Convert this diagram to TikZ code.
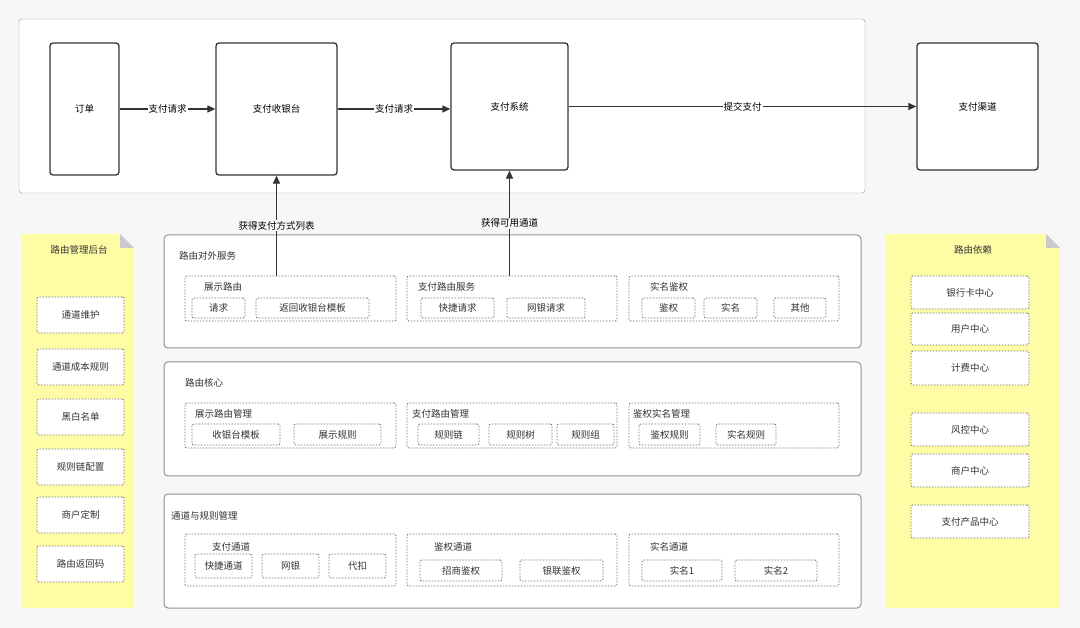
\documentclass[tikz,border=0pt]{standalone}
\usepackage{fontspec}
\setmainfont{Noto Sans CJK SC}
\usepackage{tikz}
\usetikzlibrary{fit,calc,positioning,arrows.meta}
\definecolor{bggray}{HTML}{F7F7F7}
\definecolor{inkgray}{HTML}{333333}
\definecolor{notey}{HTML}{FFFCA6}
\definecolor{foldgray}{HTML}{C9C9CF}
\tikzset{
  mainbox/.style = {draw=inkgray, line width=1.3pt, rounded corners=3pt, fill=white, inner sep=0pt},
  panel/.style = {draw=gray!85, line width=1pt, rounded corners=4pt, fill=white},
  grp/.style = {draw=gray!85!black, line width=0.8pt, dash pattern=on 1.5pt off 1.5pt,
    rounded corners=2pt, inner sep=0pt},
  itm/.style = {grp, fill=white, label={[text=inkgray]center:#1}},
  ttl/.style = {anchor=west, inner sep=0pt, text=inkgray},
  flow/.style = {draw=inkgray, line width=1.2pt, -{Triangle[length=8pt,width=7pt]}},
}

\begin{document}
\begin{tikzpicture}[x=1pt, y=-1pt,
  every node/.style = {font=\fontsize{9.5}{11}\selectfont}]
  \fill[bggray] (0,0) rectangle (1080,628);
  \useasboundingbox (0,0) rectangle (1080,628);

  % top line
  \draw[draw=gray!80, rounded corners=3pt, fill=white] (19,19) rectangle (865,193);
  \node[mainbox, fit={(50,43) (119,175)}, label=center:订单] (order) {};
  \node[mainbox, fit={(216,43) (337,175)}, label=center:支付收银台] (cashier) {};
  \node[mainbox, fit={(451,43) (568,170)}, label=center:支付系统] (paysys) {};
  \node[mainbox, fit={(917,43) (1038,170)}, label=center:支付渠道] (channel) {};

  \draw[flow] (order.east |- 0,109) -- node[fill=white, inner sep=1pt] {支付请求} (cashier.west |- 0,109);
  \draw[flow] (cashier.east |- 0,109) -- node[fill=white, inner sep=1pt] {支付请求} (paysys.west |- 0,109);
  \draw[flow] (paysys.east) -- node[fill=white, inner sep=1pt] {提交支付} (channel.west);

  % left note
  \fill[notey] (22,234) -- (120,234) -- (134,248) -- (134,608) -- (22,608) -- cycle;
  \fill[foldgray] (120,234) -- (134,248) -- (120,248) -- cycle;
  \node[text=inkgray] (admin) at (79,250) {路由管理后台};
  \node[itm=通道维护, fit={(37,297) (124,333)}] (a1) {};
  \node[itm=通道成本规则, fit={(37,349) (124,385)}] (a2) {};
  \node[itm=黑白名单, fit={(37,399) (124,435)}] (a3) {};
  \node[itm=规则链配置, fit={(37,449) (124,485)}] (a4) {};
  \node[itm=商户定制, fit={(37,497) (124,533)}] (a5) {};
  \node[itm=路由返回码, fit={(37,546) (124,582)}] (a6) {};

  % right note
  \fill[notey] (886,234) -- (1046,234) -- (1060,248) -- (1060,608) -- (886,608) -- cycle;
  \fill[foldgray] (1046,234) -- (1060,248) -- (1046,248) -- cycle;
  \node[text=inkgray] (deps) at (973,250) {路由依赖};
  \node[itm=银行卡中心, fit={(911,276) (1029,309)}] (d1) {};
  \node[itm=用户中心, fit={(911,313) (1029,345)}] (d2) {};
  \node[itm=计费中心, fit={(911,351) (1029,385)}] (d3) {};
  \node[itm=风控中心, fit={(911,413) (1029,446)}] (d4) {};
  \node[itm=商户中心, fit={(911,454) (1029,487)}] (d5) {};
  \node[itm=支付产品中心, fit={(911,505) (1029,538)}] (d6) {};

  % routing service
  \draw[panel] (164,235) rectangle (861,348);
  \node[ttl] at (179,256) {路由对外服务};
  \node[grp, fit={(185,276) (396,321)}] (showroute) {};
  \node[ttl] at (204,287) {展示路由};
  \node[itm=请求, fit={(192,298) (245,318)}] {};
  \node[itm=返回收银台模板, fit={(256,298) (369,318)}] {};
  \node[grp, fit={(407,276) (617,321)}] (payroute) {};
  \node[ttl] at (418,287) {支付路由服务};
  \node[itm=快捷请求, fit={(421,298) (494,318)}] {};
  \node[itm=网银请求, fit={(507,298) (585,318)}] {};
  \node[grp, fit={(629,276) (839,321)}] (authsvc) {};
  \node[ttl] at (650,287) {实名鉴权};
  \node[itm=鉴权, fit={(642,298) (695,318)}] {};
  \node[itm=实名, fit={(704,298) (757,318)}] {};
  \node[itm=其他, fit={(774,298) (826,318)}] {};

  % routing core
  \draw[panel] (164,362) rectangle (861,476);
  \node[ttl] at (185,383) {路由核心};
  \node[grp, fit={(185,403) (396,448)}] (showmgr) {};
  \node[ttl] at (195,414) {展示路由管理};
  \node[itm=收银台模板, fit={(192,424) (280,445)}] {};
  \node[itm=展示规则, fit={(294,424) (381,445)}] {};
  \node[grp, fit={(407,403) (617,448)}] (paymgr) {};
  \node[ttl] at (412,414) {支付路由管理};
  \node[itm=规则链, fit={(418,424) (479,445)}] {};
  \node[itm=规则树, fit={(489,424) (552,445)}] {};
  \node[itm=规则组, fit={(557,424) (614,445)}] {};
  \node[grp, fit={(629,403) (839,448)}] (authmgr) {};
  \node[ttl] at (633,414) {鉴权实名管理};
  \node[itm=鉴权规则, fit={(639,424) (700,445)}] {};
  \node[itm=实名规则, fit={(716,424) (776,445)}] {};

  % channels and rules
  \draw[panel] (164,494) rectangle (861,608);
  \node[ttl] at (171,516) {通道与规则管理};
  \node[grp, fit={(185,534) (396,586)}] (paych) {};
  \node[ttl] at (212,547) {支付通道};
  \node[itm=快捷通道, fit={(195,554) (252,578)}] {};
  \node[itm=网银, fit={(262,554) (319,578)}] {};
  \node[itm=代扣, fit={(329,554) (386,578)}] {};
  \node[grp, fit={(407,534) (617,586)}] (authch) {};
  \node[ttl] at (434,547) {鉴权通道};
  \node[itm=招商鉴权, fit={(420,560) (502,581)}] {};
  \node[itm=银联鉴权, fit={(520,560) (603,581)}] {};
  \node[grp, fit={(629,534) (839,586)}] (namech) {};
  \node[ttl] at (650,547) {实名通道};
  \node[itm=实名1, fit={(642,560) (722,581)}] {};
  \node[itm=实名2, fit={(735,560) (817,581)}] {};

  % calls up
  \draw[flow] (showroute.north -| cashier) -- node[fill=bggray, inner sep=1pt] {获得支付方式列表} (cashier.south);
  \draw[flow] (payroute.north -| paysys) -- node[fill=bggray, inner sep=1pt] {获得可用通道} (paysys.south);
\end{tikzpicture}
\end{document}
